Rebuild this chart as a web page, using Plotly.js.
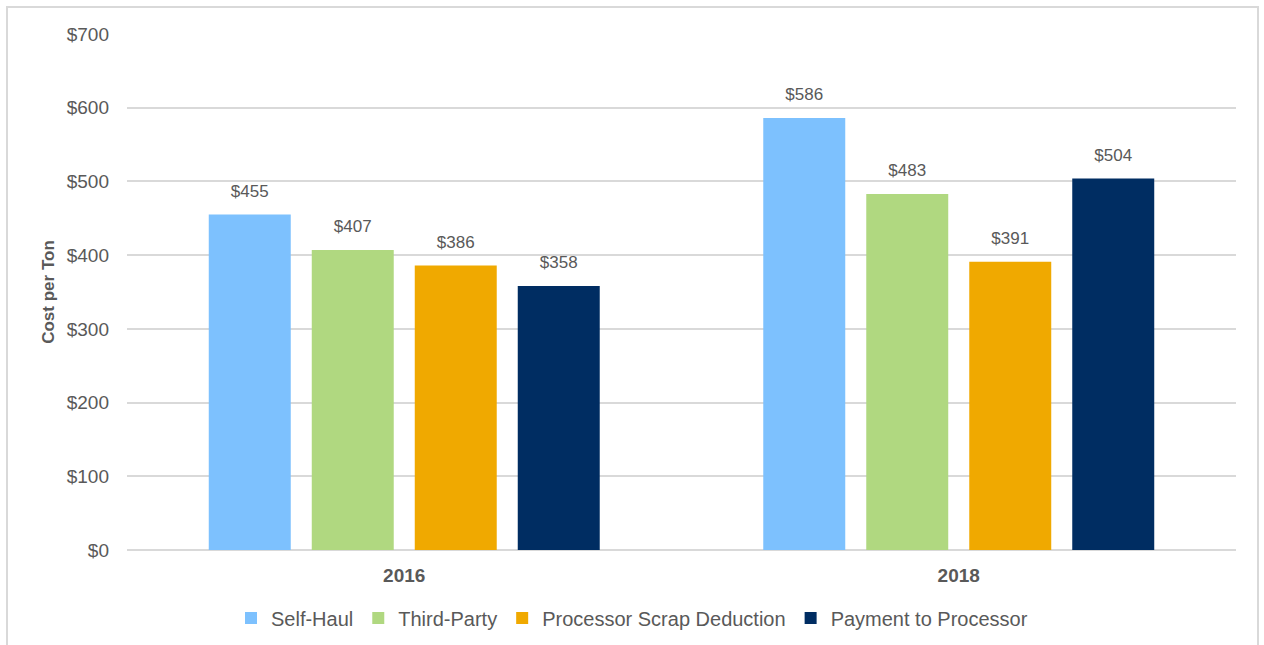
<!DOCTYPE html>
<html><head><meta charset="utf-8">
<script src="https://cdn.plot.ly/plotly-3.0.1.min.js"></script>
<style>
html,body{margin:0;padding:0;background:#fff;}
#wrap{position:relative;width:1264px;height:645px;overflow:hidden;}
#frame{position:absolute;left:6px;top:6px;width:1253px;height:700px;border:2px solid #d9d9d9;box-sizing:border-box;pointer-events:none;}
#chart{position:absolute;left:0;top:0;width:1264px;height:645px;}
</style></head>
<body><div id="wrap"><div id="chart"></div><div id="frame"></div></div>
<script>
const years = ['2016', '2018'];
const seriesNames = ['Self-Haul', 'Third-Party', 'Processor Scrap Deduction', 'Payment to Processor'];
const selfHaul = [455, 586];
const thirdParty = [407, 483];
const scrapDeduction = [386, 391];
const paymentToProcessor = [358, 504];
const seriesColors = ['#7DC1FE', '#B0D880', '#F0A900', '#002D62'];
const yTicks = [0, 100, 200, 300, 400, 500, 600, 700];

const values = [selfHaul, thirdParty, scrapDeduction, paymentToProcessor];
const font = 'Liberation Sans, Arial, sans-serif';
const bars = values.map((v, i) => ({
  type: 'bar', name: seriesNames[i], x: years, y: v,
  offsetgroup: 'g' + i,
  marker: {color: seriesColors[i]},
  hoverinfo: 'skip'
}));
const labels = values.map((v, i) => ({
  type: 'scatter', mode: 'markers+text', x: years, y: v, offsetgroup: 'g' + i,
  text: v.map(d => '$' + d), textposition: 'top center',
  marker: {size: 20, opacity: 0, color: '#ffffff'},
  textfont: {family: font, size: 17, color: '#595959'},
  showlegend: false, cliponaxis: false, hoverinfo: 'skip'
}));
const layout = {
  width: 1264, height: 645,
  margin: {l: 127, r: 28, t: 34, b: 95},
  paper_bgcolor: '#fff', plot_bgcolor: '#fff',
  barmode: 'group', bargap: 0.257, bargroupgap: 0.204,
  scattermode: 'group', scattergap: 0.257,
  font: {family: font, color: '#595959'},
  showlegend: true,
  legend: {orientation: 'h', x: 0.5, xanchor: 'center', xref: 'container', yref: 'container', y: 0.042, yanchor: 'middle',
    font: {family: font, size: 20, color: '#595959'}, itemwidth: 30, traceorder: 'normal'},
  xaxis: {type: 'category', tickfont: {family: font, size: 19, color: '#595959', weight: 'bold'},
    ticks: '', showline: false, showgrid: false, ticklabelstandoff: 12, automargin: false},
  yaxis: {range: [0, 700], tickvals: yTicks, ticktext: yTicks.map(t => '$' + t),
    tickfont: {family: font, size: 19, color: '#595959'}, showgrid: true, gridcolor: '#d9d9d9', gridwidth: 2,
    zeroline: true, zerolinecolor: '#d9d9d9', zerolinewidth: 2, ticks: '', ticklabelstandoff: 17,
    automargin: false,
    title: {text: 'Cost per Ton', font: {family: font, size: 17, color: '#595959', weight: 'bold'}, standoff: 7}}
};
Plotly.newPlot('chart', bars.concat(labels), layout, {displayModeBar: false, staticPlot: true});
</script></body></html>
